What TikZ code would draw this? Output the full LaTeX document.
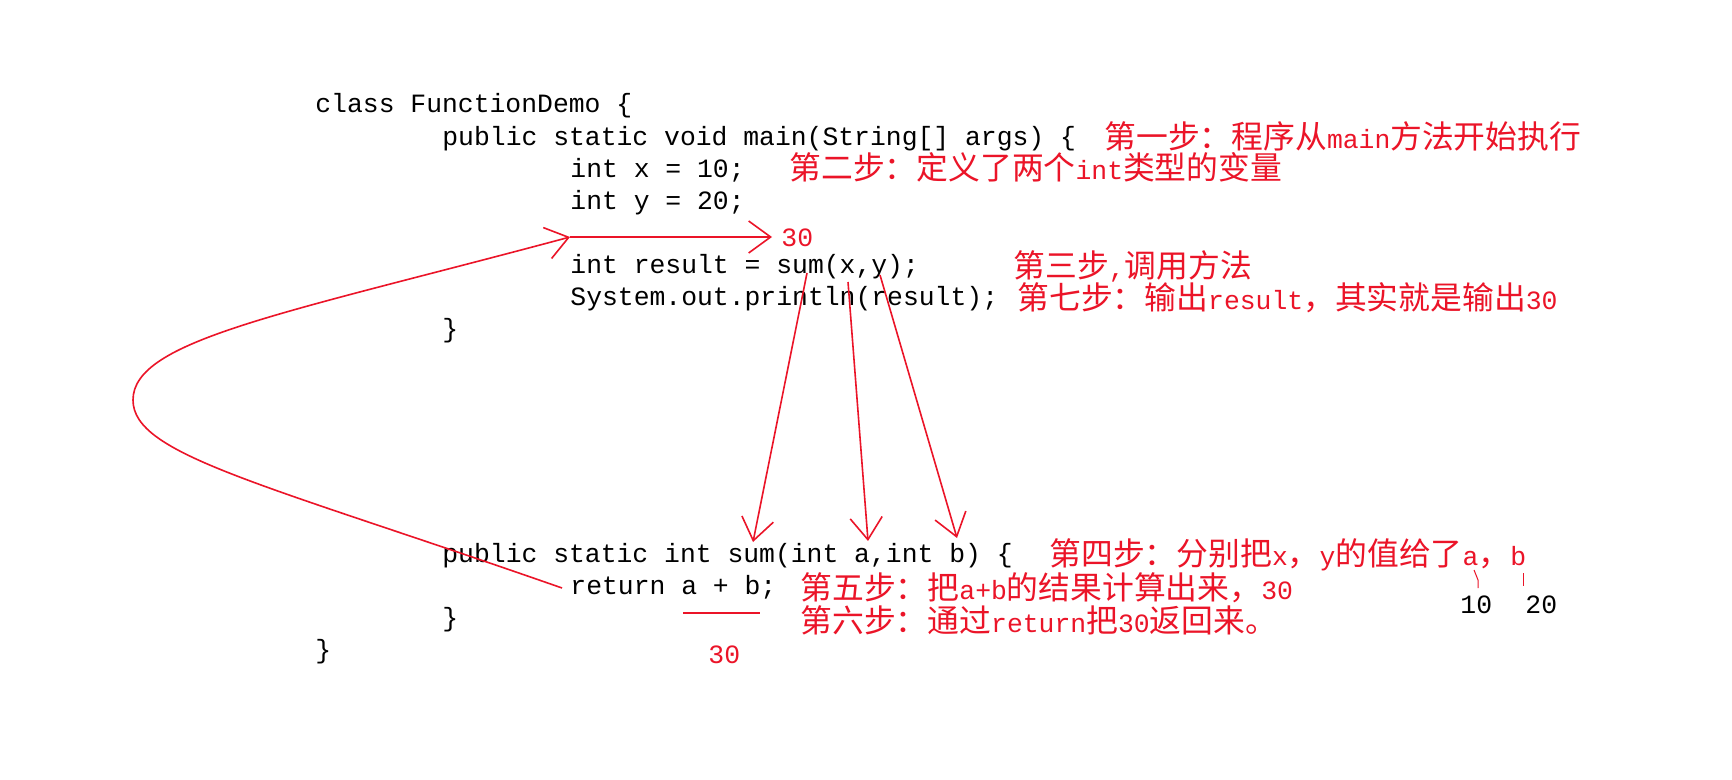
\documentclass[tikz,border=0pt]{standalone}
\usepackage{fontspec}
\usetikzlibrary{arrows.meta}
\newfontfamily\codefont{Liberation Mono}
\newfontfamily\cjkfont{Noto Sans CJK SC}
\definecolor{annot}{RGB}{235,20,40}
\newcommand\codesz{\codefont\fontsize{13.2pt}{16pt}\selectfont}
\newcommand\cjksz{\cjkfont\fontsize{15.9pt}{18pt}\selectfont}
\newcommand\mylat[1]{{\codesz #1}}
\tikzset{
  code/.style={anchor=base west, inner sep=0pt, font=\codesz, text=black},
  note/.style={anchor=base west, inner sep=0pt, font=\cjksz, text=annot},
  rednum/.style={anchor=base west, inner sep=0pt, font=\codesz, text=annot},
  blknum/.style={anchor=base west, inner sep=0pt, font=\codesz, text=black},
  redline/.style={draw=annot, line width=0.8pt},
  thinred/.style={draw=annot, line width=0.5pt},
  >={Straight Barb[length=11pt,width=16pt]},
}
\begin{document}
\begin{tikzpicture}[x=0.5pt,y=-0.5pt]
\fill[white] (0,0) rectangle (1732,780);
\useasboundingbox (0,0) rectangle (1732,780);

% code lines
\node[code] (L1)  at (315,113)   {class FunctionDemo \{};
\node[code] (L2)  at (442,145.5) {public static void main(String[] args) \{};
\node[code] (L3)  at (570,177.5) {int x = 10;};
\node[code] (L4)  at (570,209.5) {int y = 20;};
\node[code] (L5)  at (570,273.5) {int result = sum(x,y);};
\node[code] (L6)  at (570,305.5) {System.out.println(result);};
\node[code] (L7)  at (442,337.5) {\}};
\node[code] (L8)  at (442,562)   {public static int sum(int a,int b) \{};
\node[code] (L9)  at (570,594)   {return a + b;};
\node[code] (L10) at (442,626)   {\}};
\node[code] (L11) at (315,658)   {\}};

% red notes
\node[note] (N1) at (1104,149) {第一步：程序从\mylat{main}方法开始执行};
\node[note] (N2) at (789,180)  {第二步：定义了两个\mylat{int}类型的变量};
\node[note] (N3) at (1013,278) {第三步\mylat{,}调用方法};
\node[note] (N7) at (1017,310) {第七步：输出\mylat{result}，其实就是输出\mylat{30}};
\node[note] (N4) at (1049,565) {第四步：分别把\mylat{x}，\mylat{y}的值给了\mylat{a}，\mylat{b}};
\node[note] (N5) at (800,599)  {第五步：把\mylat{a+b}的结果计算出来，\mylat{30}};
\node[note] (N6) at (800,632)  {第六步：通过\mylat{return}把\mylat{30}返回来。};

% numbers
\node[rednum] (R30a) at (781,247) {30};
\node[rednum] (R30b) at (708,663) {30};
\node[blknum] (B10)  at (1460,613) {10};
\node[blknum] (B20)  at (1525,613) {20};

% connector end points
\coordinate (s1) at (807,273);
\coordinate (e1) at (753,542);
\coordinate (s2) at (848,282);
\coordinate (e2) at (868,541);
\coordinate (s3) at (880,275);
\coordinate (e3) at (957,538);
\coordinate (hs) at (570,237);
\coordinate (he) at (772,237);
\coordinate (ret) at (562,588);
\coordinate (loop) at (133,400);
\coordinate (ul1) at (683,613);
\coordinate (ul2) at (760,613);
\coordinate (ta1) at (1474,570);
\coordinate (ta2) at (1478,580);
\coordinate (ta3) at (1478,588);
\coordinate (tb1) at (1523,573);
\coordinate (tb2) at (1523,586);

% arrows
\draw[redline,->] (s1) -- (e1);
\draw[redline,->] (s2) -- (e2);
\draw[redline,->] (s3) -- (e3);
\draw[redline,->] (hs) -- (he);
\draw[redline,->] (ret) .. controls (262,483) and (133,455) .. (loop)
                        .. controls (133,340) and (283,314) .. (hs);
\draw[redline] (ul1) -- (ul2);
\draw[thinred] (ta1) -- (ta2) -- (ta3);
\draw[thinred] (tb1) -- (tb2);
\end{tikzpicture}
\end{document}
